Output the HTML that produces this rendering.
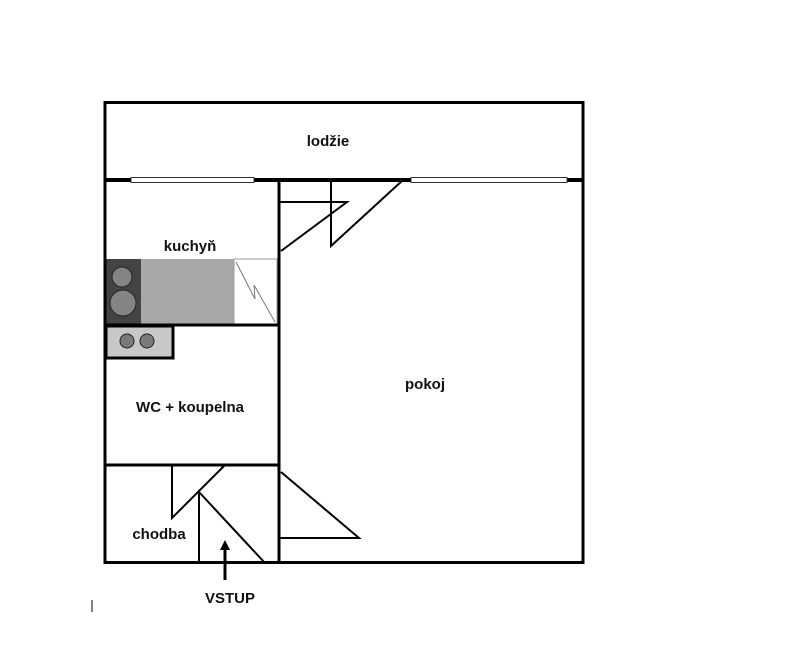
<!DOCTYPE html>
<html><head><style>body{margin:0;background:#fff}</style></head><body>
<svg width="791" height="654" xmlns="http://www.w3.org/2000/svg" style="display:block">
<rect x="0" y="0" width="791" height="654" fill="#fff"/>
<rect x="106" y="259" width="35" height="66" fill="#444"/>
<rect x="141" y="259" width="93" height="66" fill="#aaa8a6"/>
<rect x="234" y="259" width="43" height="66" fill="#fff" stroke="#999" stroke-width="1"/>
<polyline points="236,262 255,299 254,285 275,322" fill="none" stroke="#777" stroke-width="1"/>
<circle cx="122" cy="277" r="10" fill="#858383" stroke="#222" stroke-width="1"/>
<circle cx="123" cy="303" r="13" fill="#858383" stroke="#222" stroke-width="1"/>
<rect x="106" y="326" width="67" height="32" fill="#c8c8c8" stroke="#000" stroke-width="3"/>
<circle cx="127" cy="341" r="7" fill="#7a7a7a" stroke="#222" stroke-width="1"/>
<circle cx="147" cy="341" r="7" fill="#7a7a7a" stroke="#222" stroke-width="1"/>
<g stroke="#000" fill="none">
<rect x="105" y="102.5" width="478" height="460" stroke-width="3"/>
<line x1="104" y1="180" x2="583" y2="180" stroke-width="4"/>
<line x1="279" y1="180" x2="279" y2="563" stroke-width="3"/>
<line x1="104" y1="325" x2="279" y2="325" stroke-width="3"/>
<line x1="104" y1="465" x2="279" y2="465" stroke-width="3"/>
<g stroke-width="2">
<polyline points="279,202 347,202 281,251"/>
<polyline points="331,180 331,246 403,180"/>
<polyline points="281,472 359,538 279,538"/>
<polyline points="172,465 172,518 225,465"/>
<polyline points="199,563 199,492 265,563"/>
</g>
<line x1="225" y1="580" x2="225" y2="548" stroke-width="3"/>
<line x1="92" y1="600" x2="92" y2="612" stroke-width="1"/>
</g>
<polygon points="225,540 220,550 230,550" fill="#000"/>
<rect x="131" y="177.5" width="123" height="5" fill="#fff" stroke="#333" stroke-width="1"/>
<rect x="411" y="177.5" width="156" height="5" fill="#fff" stroke="#333" stroke-width="1"/>
<g font-family="Liberation Sans, sans-serif" font-weight="bold" font-size="15" fill="#111" text-anchor="middle">
<text x="328" y="146">lodžie</text>
<text x="190" y="251">kuchyň</text>
<text x="190" y="412">WC + koupelna</text>
<text x="159" y="539">chodba</text>
<text x="425" y="389">pokoj</text>
<text x="230" y="603">VSTUP</text>
</g>
</svg>
</body></html>
